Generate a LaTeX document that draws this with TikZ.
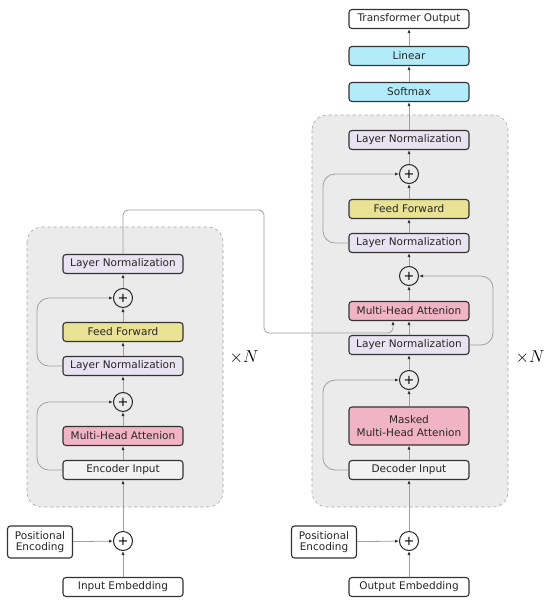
\documentclass[tikz,border=0pt]{standalone}
\usepackage{fontspec}
\setsansfont{DejaVu Sans}
\usetikzlibrary{arrows.meta}

\definecolor{stackgray}{RGB}{235,235,235}
\definecolor{normfill}{RGB}{231,227,240}
\definecolor{ffwdfill}{RGB}{233,226,148}
\definecolor{attnfill}{RGB}{241,180,198}
\definecolor{headfill}{RGB}{178,236,250}
\definecolor{infill}{RGB}{242,242,242}

\begin{document}
\begin{tikzpicture}[x=1pt,y=-1pt,
  block/.style={draw=black!80, line width=1.1pt, rounded corners=3pt,
    minimum width=120pt, minimum height=19pt, inner sep=1pt, align=center,
    font=\sffamily\fontsize{10.5}{13.5}\selectfont, text=black!85, fill=white},
  lnorm/.style={block, fill=normfill},
  ffwd/.style={block, fill=ffwdfill},
  attn/.style={block, fill=attnfill},
  head/.style={block, fill=headfill},
  inbox/.style={block, fill=infill},
  addop/.style={circle, draw=black!85, line width=1pt, minimum size=19pt,
    inner sep=0pt, font=\sffamily\fontsize{13}{13}\selectfont},
  stack/.style={fill=stackgray, draw=gray!70, dashed, line width=0.6pt,
    rounded corners=15pt},
  conn/.style={draw=gray!75, line width=0.8pt,
    -{Latex[length=4pt,width=3.2pt,color=black!80]}},
  repeat/.style={font=\fontsize{17}{17}\selectfont}]
  \useasboundingbox (0,0) rectangle (550,602);

  % Stacks
  \draw[stack] (27,227) rectangle (223,507);
  \draw[stack] (312,115) rectangle (508,507);

  % Encoder
  \node[lnorm] (encln2) at (123,264) {Layer Normalization};
  \node[addop] (encadd2) at (123,298) {+};
  \node[ffwd] (encff) at (123,332) {Feed Forward};
  \node[lnorm] (encln1) at (123,366) {Layer Normalization};
  \node[addop] (encadd1) at (123,402) {+};
  \node[attn] (encattn) at (123,436) {Multi-Head Attenion};
  \node[inbox] (encin) at (123,470) {Encoder Input};
  \node[addop] (encsum) at (123,541) {+};
  \node[block, minimum width=65pt, minimum height=32pt, inner sep=2pt] (encpos) at (40,542) {Positional\\[-3pt]Encoding};
  \node[block] (encemb) at (123,587) {Input Embedding};

  % Decoder
  \node[block] (tout) at (409,19) {Transformer Output};
  \node[head] (linear) at (409,56) {Linear};
  \node[head] (softmax) at (409,92) {Softmax};
  \node[lnorm] (decln3) at (409,140) {Layer Normalization};
  \node[addop] (decadd3) at (409,174) {+};
  \node[ffwd] (decff) at (409,209) {Feed Forward};
  \node[lnorm] (decln2) at (409,243) {Layer Normalization};
  \node[addop] (decadd2) at (409,276) {+};
  \node[attn] (decattn) at (409,311) {Multi-Head Attenion};
  \node[lnorm] (decln1) at (409,345) {Layer Normalization};
  \node[addop] (decadd1) at (409,380) {+};
  \node[attn, minimum height=38pt] (decmask) at (409,426) {Masked\\Multi-Head Attenion};
  \node[inbox] (decin) at (409,470) {Decoder Input};
  \node[addop] (decsum) at (409,541) {+};
  \node[block, minimum width=65pt, minimum height=32pt, inner sep=2pt] (decpos) at (324,542) {Positional\\[-3pt]Encoding};
  \node[block] (decemb) at (409,587) {Output Embedding};

  % Repeat marks
  \node[repeat] (encrep) at (244,357) {$\times N$};
  \node[repeat] (decrep) at (530,357) {$\times N$};

  % Main flow
  \foreach \a/\b in {encemb/encsum, encsum/encin, encin/encattn, encattn/encadd1,
      encadd1/encln1, encln1/encff, encff/encadd2, encadd2/encln2,
      decemb/decsum, decsum/decin, decin/decmask, decmask/decadd1,
      decadd1/decln1, decln1/decattn, decattn/decadd2, decadd2/decln2,
      decln2/decff, decff/decadd3, decadd3/decln3, decln3/softmax,
      softmax/linear, linear/tout}
    \draw[conn] (\a) -- (\b);
  \draw[conn] (encpos) -- (encsum);
  \draw[conn] (decpos) -- (decsum);

  % Residuals
  \draw[conn, rounded corners=12pt] (encin.west) -- (37,470) -- (37,402) -- (encadd1.west);
  \draw[conn, rounded corners=12pt] (encln1.west) -- (37,366) -- (37,298) -- (encadd2.west);
  \draw[conn, rounded corners=12pt] (decin.west) -- (323,470) -- (323,380) -- (decadd1.west);
  \draw[conn, rounded corners=12pt] (decln2.west) -- (323,243) -- (323,174) -- (decadd3.west);
  \draw[conn, rounded corners=12pt] (decln1.east) -- (493,345) -- (493,276) -- (decadd2.east);

  % Encoder to decoder
  \coordinate (crossin) at (393,333);
  \draw[conn, rounded corners=5pt] (encln2.north) -- (123,210) -- (264,210)
    -- (264,333) -- (crossin) -- (crossin |- decattn.south);
\end{tikzpicture}
\end{document}
